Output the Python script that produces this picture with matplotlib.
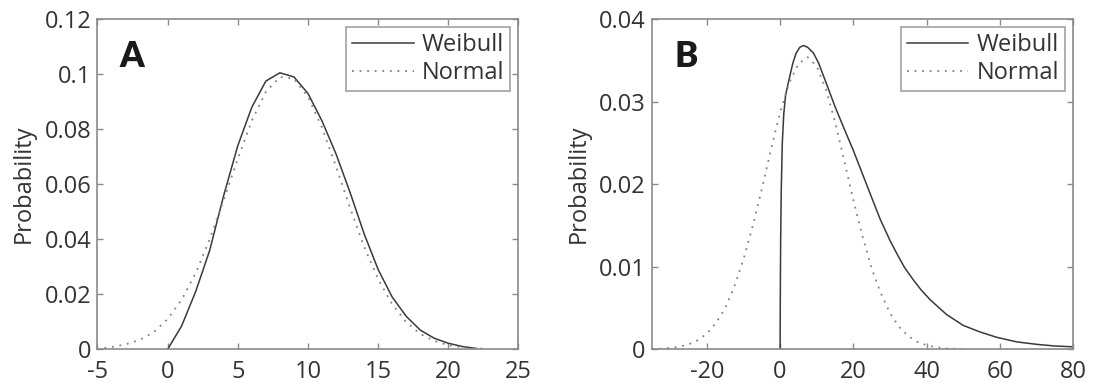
import matplotlib
matplotlib.use('Agg')
import matplotlib.pyplot as plt
from matplotlib.ticker import FuncFormatter

plt.rcParams['font.family'] = ['Open Sans', 'DejaVu Sans']

#%% Panel A data
wA_x = [0, 1, 2, 3, 4, 5, 6, 7, 8, 9, 10, 11, 12, 13, 14, 15, 16, 17, 18, 19, 20, 21, 22]
wA_y = [0, 0.0085, 0.021, 0.036, 0.056, 0.074, 0.088, 0.0975, 0.1005, 0.099, 0.093, 0.083,
        0.071, 0.057, 0.042, 0.029, 0.019, 0.012, 0.007, 0.004, 0.0022, 0.001, 0.0003]
nA_x = [-4.5, -4, -3, -2, -1, 0, 1, 2, 3, 4, 5, 6, 7, 8, 9, 10, 11, 12, 13, 14, 15, 16, 17,
        18, 19, 20, 21, 22, 22.5]
nA_y = [0.0005, 0.0008, 0.0018, 0.0034, 0.0062, 0.011, 0.018, 0.0277, 0.040, 0.0543, 0.0693,
        0.0831, 0.0936, 0.099, 0.0984, 0.0918, 0.0806, 0.0664, 0.0514, 0.0373, 0.0255, 0.0164,
        0.0099, 0.0056, 0.003, 0.0015, 0.0007, 0.0003, 0.0002]

#%% Panel B data
wB_x = [0, 0.05, 0.15, 0.3, 0.6, 1.0, 1.5, 2.5, 3.5, 4.4, 5.4, 6.4, 7.5, 9.1, 10.5, 12.3, 15,
        17.8, 20, 22.8, 25, 27.3, 30, 32, 34, 36.4, 38.5, 41, 45.5, 50, 54.6, 59.2, 64.6, 70.1,
        75, 80]
wB_y = [0, 0.006, 0.013, 0.019, 0.025, 0.0285, 0.0308, 0.0328, 0.0347, 0.0359, 0.0366, 0.0368,
        0.0366, 0.0359, 0.0347, 0.0326, 0.0294, 0.0264, 0.0241, 0.0209, 0.0184, 0.0158, 0.0132,
        0.0115, 0.0099, 0.0084, 0.0072, 0.006, 0.0042, 0.0029, 0.0021, 0.00145, 0.0009, 0.0006,
        0.0004, 0.0003]
nB_x = [-35, -32.5, -30, -27.5, -25, -22.5, -20, -17.5, -15, -12.5, -10, -7.5, -5, -2.5, 0,
        2.5, 5, 7.5, 10, 12.5, 15, 17.5, 20, 22.5, 25, 27.5, 30, 32.5, 35, 37.5, 40, 42.5, 45,
        47.5, 50]
nB_y = [0.00004, 0.00008, 0.00016, 0.0003, 0.0006, 0.0011, 0.0019, 0.0032, 0.005, 0.0076,
        0.0109, 0.0149, 0.0194, 0.0242, 0.0287, 0.0323, 0.0346, 0.0354, 0.0343, 0.0315, 0.0276,
        0.0229, 0.0181, 0.0137, 0.0098, 0.0068, 0.0044, 0.0027, 0.0016, 0.0009, 0.0005, 0.00025,
        0.00012, 0.00006, 0.00003]

#%% Plot
fig = plt.figure(figsize=(10.95, 3.83), dpi=100)
axA = fig.add_axes([0.089, 0.088, 0.3845, 0.862])
axB = fig.add_axes([0.5954, 0.088, 0.3845, 0.862])

fmt = FuncFormatter(lambda v, p: '%g' % round(v, 4))

panels = [
    (axA, wA_x, wA_y, nA_x, nA_y, 'A', (-5, 25), range(-5, 30, 5), 0.12,
     [0, 0.02, 0.04, 0.06, 0.08, 0.1, 0.12]),
    (axB, wB_x, wB_y, nB_x, nB_y, 'B', (-35, 80), range(-20, 100, 20), 0.04,
     [0, 0.01, 0.02, 0.03, 0.04]),
]

for ax, wx, wy, nx, ny, lab, xl, xt, ytop, yt in panels:
    ax.plot(wx, wy, color='#3a3a3a', lw=1.1, label='Weibull')
    ax.plot(nx, ny, color='#808080', lw=1.3, ls=(0, (1, 3.2)), label='Normal')
    ax.set_xlim(*xl)
    ax.set_ylim(0, ytop)
    ax.set_xticks(list(xt))
    ax.set_yticks(yt)
    ax.yaxis.set_major_formatter(fmt)
    ax.xaxis.set_major_formatter(fmt)
    for s in ax.spines.values():
        s.set_color('#8a8a8a')
        s.set_linewidth(1.2)
    ax.tick_params(direction='in', length=4, width=1, color='#8a8a8a',
                   top=True, right=True, labelsize=17, labelcolor='#333333')
    ax.tick_params(axis='x', pad=7.5)
    ax.tick_params(axis='y', pad=4.5)
    ax.set_ylabel('Probability', fontsize=17, color='#333333', labelpad=6)
    ax.text(0.053, 0.886, lab, transform=ax.transAxes, fontsize=25,
            fontweight='heavy', color='#1a1a1a', va='center', ha='left',
            family=['Lato', 'DejaVu Sans'])
    leg = ax.legend(loc='upper right', fontsize=17, frameon=True, fancybox=False,
                    handlelength=2.6, handletextpad=0.35, borderaxespad=0.35,
                    labelspacing=0.15, borderpad=0.25, labelcolor='#333333')
    leg.get_frame().set_edgecolor('#8a8a8a')
    leg.get_frame().set_linewidth(1.2)

fig.savefig('out.png', dpi=100)
